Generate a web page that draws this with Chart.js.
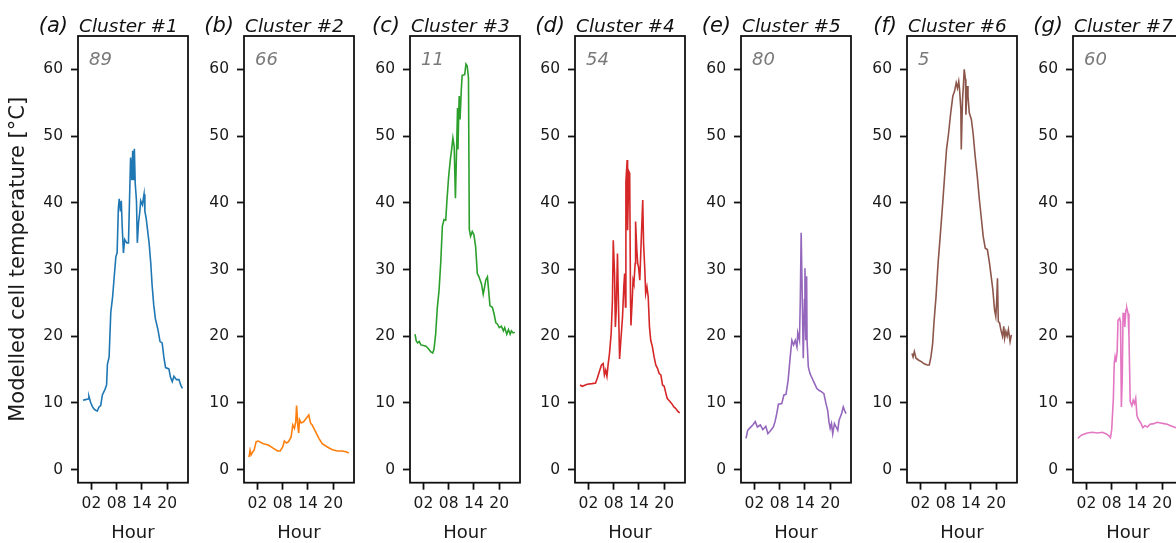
<!DOCTYPE html>
<html>
<head>
<meta charset="utf-8">
<script src="https://cdn.jsdelivr.net/npm/chart.js@4.4.1/dist/chart.umd.min.js"></script>
<style>
    html, body { margin: 0; padding: 0; background: #fff; overflow: hidden; }
    #fig { position: relative; width: 1176px; height: 543px; overflow: hidden; background: #fff; }
    .panel { position: absolute; top: 0; height: 543px; }
</style>
</head>
<body>
<div id="fig"></div>
<script>
/* Cluster temperature profiles – small multiples */

/* ── Data ───────────────────────────────────────────────────── */
var panelLetters = ['(a)', '(b)', '(c)', '(d)', '(e)', '(f)', '(g)'];
var clusterNames = ['Cluster #1', 'Cluster #2', 'Cluster #3', 'Cluster #4', 'Cluster #5', 'Cluster #6', 'Cluster #7'];
var clusterCounts = ['89', '66', '11', '54', '80', '5', '60'];
var hourTicks = [2, 8, 14, 20];
var hourTickLabels = ['02', '08', '14', '20'];
var tempTicks = [0, 10, 20, 30, 40, 50, 60];

// [hour, °C]
var cluster1 = [[0,10.4],[0.6,10.5],[1.2,10.6],[1.4,11.0],[1.8,10.1],[2.2,9.5],[2.6,9.1],[3.0,8.9],[3.4,8.8],[3.8,9.4],[4.2,9.6],[4.6,11.2],[5.2,12.0],[5.6,12.7],[5.8,15.8],[6.2,16.9],[6.6,23.6],[7.0,25.7],[7.4,28.8],[7.8,31.9],[8.1,32.5],[8.4,39.2],[8.6,40.6],[8.9,38.7],[9.1,40.3],[9.3,36.6],[9.6,32.5],[9.9,34.5],[10.4,34.0],[10.8,34.0],[11.0,39.2],[11.3,46.8],[11.6,43.4],[11.8,47.8],[12.0,43.4],[12.2,48.1],[12.4,42.9],[12.7,40.3],[12.9,34.0],[13.2,37.1],[13.5,38.7],[13.7,40.3],[14.1,39.7],[14.5,41.3],[14.7,38.7],[15.0,37.7],[15.3,36.1],[15.7,34.0],[16.1,30.9],[16.4,27.8],[16.8,24.7],[17.2,22.6],[17.8,21.0],[18.3,19.2],[18.8,19.0],[19.2,16.9],[19.6,15.3],[20.4,15.1],[20.8,13.8],[21.2,13.2],[21.6,14.0],[22.2,13.5],[22.8,13.5],[23.2,12.7],[23.6,12.2]];
var cluster2 = [[0,1.9],[0.25,2.9],[0.5,2.2],[0.9,2.7],[1.2,2.9],[1.7,4.2],[2.2,4.3],[3.4,3.9],[4.6,3.7],[5.8,3.2],[6.8,2.8],[7.4,2.8],[8.0,3.4],[8.4,4.3],[8.9,4.0],[9.4,4.2],[10.0,4.9],[10.4,6.7],[10.8,6.2],[11.1,7.2],[11.3,9.6],[11.6,6.5],[11.8,5.5],[12.0,7.5],[12.4,7.0],[13.0,7.2],[13.6,7.7],[14.2,8.2],[14.6,7.0],[15.0,6.7],[15.8,5.7],[16.6,4.7],[17.4,3.9],[18.6,3.4],[19.8,3.0],[21.0,2.8],[22.2,2.8],[23.0,2.7],[23.7,2.5]];
var cluster3 = [[0,20.3],[0.3,19.3],[0.6,19.0],[1.0,19.2],[1.4,18.7],[2.0,18.6],[2.6,18.5],[3.1,18.2],[3.7,17.7],[4.2,17.5],[4.5,18.0],[4.9,20.3],[5.3,24.3],[5.7,26.8],[6.1,30.9],[6.5,36.5],[6.9,37.5],[7.3,37.4],[7.6,40.5],[8.0,44.0],[8.4,46.5],[8.7,48.0],[9.0,49.7],[9.3,48.5],[9.6,40.7],[9.9,48.5],[10.1,54.2],[10.2,48.0],[10.4,53.7],[10.5,56.0],[10.7,52.5],[11.0,57.0],[11.2,59.1],[11.8,59.2],[12.1,60.8],[12.4,60.5],[12.7,58.7],[12.9,36.0],[13.2,35.0],[13.6,35.7],[14.0,35.2],[14.4,33.4],[14.8,29.4],[15.2,28.9],[15.8,27.8],[16.2,26.3],[16.5,27.3],[16.8,28.4],[17.2,28.9],[17.5,26.8],[17.8,24.6],[18.4,24.3],[18.8,23.3],[19.2,22.0],[19.6,21.8],[20.0,21.3],[20.5,21.5],[21.0,20.8],[21.3,21.3],[21.8,20.3],[22.2,21.0],[22.6,20.3],[22.9,20.8],[23.3,20.5],[23.7,20.6]];
var cluster4 = [[0,12.7],[0.55,12.5],[1.7,12.8],[2.9,12.9],[3.7,13.0],[4.1,13.7],[4.7,14.9],[5.1,15.7],[5.5,15.9],[5.8,14.2],[6.1,14.9],[6.4,14.0],[6.7,15.9],[7.0,17.4],[7.4,20.4],[7.7,25.4],[7.9,34.4],[8.2,29.4],[8.4,21.4],[8.6,23.9],[8.9,32.4],[9.2,22.9],[9.4,16.6],[9.7,19.4],[10.1,22.9],[10.4,27.4],[10.6,29.4],[10.8,24.4],[10.9,43.2],[11.2,46.4],[11.3,35.9],[11.6,44.7],[11.8,44.4],[12.0,25.4],[12.1,21.6],[12.4,25.4],[12.6,28.4],[12.8,27.9],[13.1,30.9],[13.2,37.2],[13.5,32.9],[13.7,30.9],[13.9,30.4],[14.2,28.4],[14.4,31.9],[14.6,35.4],[14.9,40.4],[15.1,33.9],[15.4,29.9],[15.6,26.4],[15.9,27.4],[16.2,25.9],[16.5,21.4],[16.8,19.4],[17.2,18.4],[17.6,16.9],[18.0,15.7],[18.4,15.2],[18.8,14.4],[19.2,14.2],[19.6,12.7],[20.0,12.5],[20.3,11.7],[20.7,10.7],[21.1,10.4],[21.8,9.9],[22.3,9.4],[22.7,9.2],[23.3,8.7],[23.7,8.5]];
var cluster5 = [[0,4.7],[0.4,5.9],[1.0,6.3],[1.6,6.7],[2.2,7.2],[2.7,6.4],[3.4,6.7],[4.0,6.0],[4.7,6.5],[5.2,5.4],[5.9,5.9],[6.5,6.4],[6.9,7.2],[7.3,8.4],[7.7,9.8],[8.5,9.9],[9.0,11.2],[9.5,11.3],[10.0,13.4],[10.5,16.9],[10.9,19.4],[11.3,18.7],[11.7,19.4],[12.1,18.4],[12.3,20.5],[12.7,19.4],[12.9,25.5],[13.1,35.5],[13.4,24.5],[13.6,16.7],[13.9,25.5],[14.0,30.2],[14.2,19.4],[14.4,29.0],[14.5,19.4],[14.8,15.4],[15.2,14.4],[15.7,13.7],[16.3,12.9],[16.8,12.2],[17.3,11.9],[17.9,11.7],[18.5,11.4],[19.0,9.9],[19.4,8.9],[19.7,7.2],[20.0,6.2],[20.3,6.9],[20.6,5.4],[21.0,6.9],[21.4,6.4],[21.8,5.9],[22.1,7.4],[22.4,7.9],[22.7,8.4],[23.1,9.4],[23.4,8.9],[23.75,8.4]];
var cluster6 = [[0,17.4],[0.25,16.9],[0.55,17.7],[0.95,16.7],[1.6,16.4],[2.2,16.2],[2.8,15.9],[3.6,15.7],[4.1,15.7],[4.5,16.9],[4.9,18.9],[5.2,21.9],[5.7,25.9],[6.2,31.0],[6.7,35.0],[7.3,40.0],[7.8,44.5],[8.2,48.0],[8.7,50.5],[9.2,53.5],[9.7,56.0],[10.1,56.7],[10.5,58.0],[10.8,57.2],[11.1,58.2],[11.3,57.0],[11.6,54.0],[11.7,48.0],[12.0,55.5],[12.2,57.5],[12.4,60.0],[12.7,58.5],[12.8,53.2],[13.1,57.5],[13.3,56.0],[13.6,53.5],[14.1,52.5],[14.5,50.5],[15.0,47.0],[15.5,44.0],[16.0,40.5],[16.5,37.5],[16.9,35.0],[17.4,33.2],[17.9,33.0],[18.4,31.0],[18.8,29.0],[19.2,27.0],[19.6,24.0],[19.9,23.0],[20.1,25.0],[20.3,28.7],[20.5,22.2],[20.8,22.0],[21.1,21.0],[21.5,20.0],[21.8,21.5],[22.0,19.7],[22.3,20.7],[22.6,20.0],[22.9,21.0],[23.3,19.2],[23.6,20.2]];
var cluster7 = [[0,4.7],[0.3,4.9],[0.9,5.2],[2.2,5.5],[3.4,5.6],[4.6,5.5],[5.8,5.6],[6.6,5.4],[7.3,5.1],[7.7,4.8],[8.0,6.0],[8.4,10.7],[8.6,15.9],[8.8,16.9],[9.0,16.1],[9.3,17.7],[9.5,22.4],[9.9,22.7],[10.1,22.1],[10.3,9.4],[10.5,13.3],[10.7,23.4],[11.0,23.4],[11.1,21.4],[11.4,24.0],[11.6,24.2],[11.9,23.4],[12.1,20.1],[12.4,10.2],[12.8,9.6],[13.1,10.4],[13.4,9.9],[13.7,10.7],[14.0,8.1],[14.3,7.6],[14.9,7.0],[15.4,6.3],[15.9,6.6],[16.5,6.4],[17.1,6.8],[18.0,6.9],[18.8,7.1],[19.6,7.0],[20.4,6.9],[21.2,6.8],[22.0,6.6],[22.8,6.4],[23.7,6.2]];

var clusterSeries = [cluster1, cluster2, cluster3, cluster4, cluster5, cluster6, cluster7];
var lineColors = ['#1f77b4', '#ff7f0e', '#2ca02c', '#d62728', '#9467bd', '#8c564b', '#e377c2'];

/* ── Chart.js defaults ──────────────────────────────────────── */
Chart.defaults.font.family = "'DejaVu Sans', sans-serif";
Chart.defaults.color       = '#1a1a1a';
Chart.defaults.animation   = false;

/* ── Layout (px) ────────────────────────────────────────────── */
var AXIS_W  = 78;     // space left of each box
var BOX_W   = 110;
var BOX_TOP = 36;
var XAXIS_H = 60.3;

/* ── Plugins: frame + panel captions ────────────────────────── */
var framePlugin = {
    id: 'frame',
    afterDatasetsDraw: function (chart) {
        var a = chart.chartArea, ctx = chart.ctx;
        ctx.save();
        ctx.strokeStyle = '#111';
        ctx.lineWidth = 1.8;
        ctx.strokeRect(a.left, a.top, a.right - a.left, a.bottom - a.top);
        ctx.restore();
    }
};

var captionPlugin = {
    id: 'caption',
    afterDraw: function (chart, args, opts) {
        var a = chart.chartArea, ctx = chart.ctx;
        ctx.save();
        ctx.textBaseline = 'alphabetic';
        ctx.fillStyle = '#111';

        ctx.font = "italic 21px 'DejaVu Sans'";
        ctx.textAlign = 'right';
        ctx.fillText(opts.letter, a.left - 10, 32);

        ctx.font = "italic 18.5px 'DejaVu Sans'";
        ctx.textAlign = 'left';
        ctx.fillText(opts.name, a.left + 1, 31.5);

        ctx.fillStyle = '#7a7a7a';
        ctx.font = "italic 18px 'DejaVu Sans'";
        ctx.fillText(opts.count, a.left + 11, 65);
        ctx.restore();
    }
};

/* ── Build panels ───────────────────────────────────────────── */
var fig = document.getElementById('fig');

clusterSeries.forEach(function (series, i) {
    var boxLeft = Math.round(78.3 + 165.7 * i);
    var wrap = document.createElement('div');
    wrap.className = 'panel';
    wrap.style.left  = (boxLeft - AXIS_W) + 'px';
    wrap.style.width = (AXIS_W + BOX_W + 4) + 'px';
    var cv = document.createElement('canvas');
    wrap.appendChild(cv);
    fig.appendChild(wrap);

    new Chart(cv, {
        type: 'line',
        data: {
            datasets: [{
                data: series.map(function (p) { return { x: p[0], y: p[1] }; }),
                borderColor: lineColors[i],
                borderWidth: 1.6,
                pointRadius: 0,
                tension: 0,
                fill: false,
            }],
        },
        plugins: [framePlugin, captionPlugin],
        options: {
            responsive: true,
            maintainAspectRatio: false,
            layout: { padding: { top: BOX_TOP, right: 4, bottom: 0, left: 0 } },
            events: [],
            plugins: {
                legend:  { display: false },
                tooltip: { enabled: false },
                caption: { letter: panelLetters[i], name: clusterNames[i], count: clusterCounts[i] },
            },
            scales: {
                x: {
                    type: 'linear',
                    min: -1.19,
                    max: 24.94,
                    afterBuildTicks: function (s) {
                        s.ticks = hourTicks.map(function (v) { return { value: v }; });
                    },
                    afterFit: function (s) { s.height = XAXIS_H; },
                    grid: { drawOnChartArea: false, drawTicks: true, tickLength: 7, tickWidth: 1.8, tickColor: '#111' },
                    border: { display: false },
                    ticks: {
                        autoSkip: false,
                        maxRotation: 0,
                        padding: 5,
                        font: { size: 15.5 },
                        callback: function (v, idx) { return hourTickLabels[idx]; },
                    },
                    title: {
                        display: true,
                        text: 'Hour',
                        font: { size: 18, lineHeight: 1 },
                        padding: { top: 0, bottom: 1 },
                    },
                },
                y: {
                    type: 'linear',
                    min: -1.95,
                    max: 65.0,
                    afterBuildTicks: function (s) {
                        s.ticks = tempTicks.map(function (v) { return { value: v }; });
                    },
                    afterFit: function (s) { s.width = AXIS_W; },
                    grid: { drawOnChartArea: false, drawTicks: true, tickLength: 7, tickWidth: 1.8, tickColor: '#111' },
                    border: { display: false },
                    ticks: { padding: 8, font: { size: 15.5 } },
                    title: {
                        display: i === 0,
                        text: 'Modelled cell temperature [°C]',
                        font: { size: 21, lineHeight: 1 },
                        padding: { top: 8.5, bottom: 0 },
                    },
                },
            },
        },
    });
});
</script>
</body>
</html>
